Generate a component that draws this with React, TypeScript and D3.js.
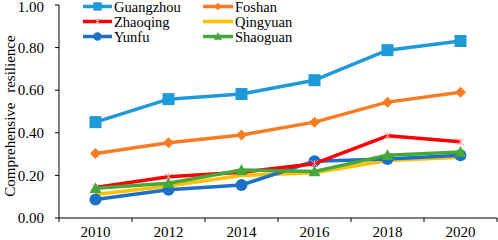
import React from "react";
import * as d3 from "d3";

const years = ["2010", "2012", "2014", "2016", "2018", "2020"];
const yTicks = [0, 0.2, 0.4, 0.6, 0.8, 1.0];
const guangzhou = [0.45, 0.558, 0.582, 0.647, 0.788, 0.831];
const foshan = [0.303, 0.353, 0.39, 0.45, 0.544, 0.59];
const zhaoqing = [0.143, 0.194, 0.215, 0.255, 0.386, 0.358];
const qingyuan = [0.11, 0.15, 0.2, 0.212, 0.27, 0.285];
const yunfu = [0.087, 0.133, 0.155, 0.267, 0.277, 0.295];
const shaoguan = [0.14, 0.163, 0.225, 0.218, 0.295, 0.31];

type S = { name: string; values: number[]; color: string; marker: string };
const series: S[] = [
  { name: "Guangzhou", values: guangzhou, color: "#1E9AD8", marker: "square" },
  { name: "Foshan", values: foshan, color: "#F97B22", marker: "diamond" },
  { name: "Zhaoqing", values: zhaoqing, color: "#FF0000", marker: "star" },
  { name: "Qingyuan", values: qingyuan, color: "#FFC000", marker: "none" },
  { name: "Yunfu", values: yunfu, color: "#1D6FC7", marker: "circle" },
  { name: "Shaoguan", values: shaoguan, color: "#45A83A", marker: "triangle" },
];
// draw order (back to front)
const drawOrder = ["Qingyuan", "Yunfu", "Zhaoqing", "Shaoguan", "Foshan", "Guangzhou"];

const W = 498, H = 240;
const left = 59, right = 497, top = 5, bottom = 218;

function Marker({ kind, x, y, color, size }: { kind: string; x: number; y: number; color: string; size: number }) {
  if (kind === "square") return <rect x={x - size / 2} y={y - size / 2} width={size} height={size} fill={color} />;
  if (kind === "diamond") {
    const r = size / 2;
    return <path d={`M${x},${y - r}L${x + r},${y}L${x},${y + r}L${x - r},${y}Z`} fill={color} />;
  }
  if (kind === "circle") return <circle cx={x} cy={y} r={size / 2} fill={color} />;
  if (kind === "triangle") {
    const r = size / 2;
    return <path d={`M${x},${y - r}L${x + r},${y + r * 0.8}L${x - r},${y + r * 0.8}Z`} fill={color} />;
  }
  if (kind === "star") {
    const r = size / 2;
    return (
      <g stroke="#FF9A9A" strokeWidth={1}>
        <line x1={x - r} y1={y - r} x2={x + r} y2={y + r} />
        <line x1={x - r} y1={y + r} x2={x + r} y2={y - r} />
        <line x1={x} y1={y - r} x2={x} y2={y + r} />
      </g>
    );
  }
  return null;
}

export default function App() {
  const x = d3.scaleBand<string>().domain(years).range([left, right]);
  const y = d3.scaleLinear().domain([0, 1]).range([bottom, top]);
  const line = d3
    .line<number>()
    .x((_, i) => (x(years[i]) as number) + x.bandwidth() / 2)
    .y((d) => y(d));
  const sizes: Record<string, number> = { square: 12, diamond: 11, circle: 12, triangle: 12, star: 7, none: 0 };
  const font = "'Liberation Serif', 'Times New Roman', serif";
  const boundaries = d3.range(years.length + 1).map((i) => left + i * x.bandwidth());
  const legendCols = [
    { x1: 83, x2: 112, tx: 114 },
    { x1: 203, x2: 233, tx: 235 },
  ];
  const legendRows = [6.5, 21.5, 36.5];
  return (
    <svg width={W} height={H} style={{ position: "absolute", left: 0, top: 0, background: "#fff" }} fontFamily={font}>
      {/* axes */}
      <line x1={left} y1={top} x2={left} y2={bottom} stroke="#000" strokeWidth={1} />
      <line x1={left} y1={bottom} x2={right} y2={bottom} stroke="#000" strokeWidth={1} />
      {yTicks.map((t) => (
        <g key={t}>
          <line x1={left - 4} x2={left} y1={y(t)} y2={y(t)} stroke="#000" />
          <text x={44} y={Math.max(y(t), 7)} dy="0.35em" textAnchor="end" fontSize={15}>
            {t.toFixed(2)}
          </text>
        </g>
      ))}
      {boundaries.map((b, i) => (
        <line key={i} x1={b} x2={b} y1={bottom} y2={bottom + 4} stroke="#000" />
      ))}
      {years.map((yr) => (
        <text key={yr} x={(x(yr) as number) + x.bandwidth() / 2} y={237} textAnchor="middle" fontSize={15}>
          {yr}
        </text>
      ))}
      <text transform={`translate(15,116) rotate(-90)`} textAnchor="middle" fontSize={15} wordSpacing={6}>
        Comprehensive resilience
      </text>
      {/* series */}
      {drawOrder.map((n) => {
        const s = series.find((q) => q.name === n)!;
        return (
          <g key={n}>
            <path d={line(s.values) || ""} fill="none" stroke={s.color} strokeWidth={3.5} strokeLinejoin="round" />
            {s.values.map((v, i) => (
              <Marker key={i} kind={s.marker} x={(x(years[i]) as number) + x.bandwidth() / 2} y={y(v)} color={s.color} size={sizes[s.marker]} />
            ))}
          </g>
        );
      })}
      {/* legend */}
      {series.map((s, i) => {
        const c = legendCols[i % 2];
        const ry = legendRows[Math.floor(i / 2)];
        const mx = (c.x1 + c.x2) / 2;
        return (
          <g key={s.name}>
            <line x1={c.x1} x2={c.x2} y1={ry} y2={ry} stroke={s.color} strokeWidth={3.5} />
            <Marker kind={s.marker} x={mx} y={ry} color={s.color} size={sizes[s.marker] * 0.7} />
            <text x={c.tx} y={ry} dy="0.35em" fontSize={14.5}>
              {s.name}
            </text>
          </g>
        );
      })}
    </svg>
  );
}
